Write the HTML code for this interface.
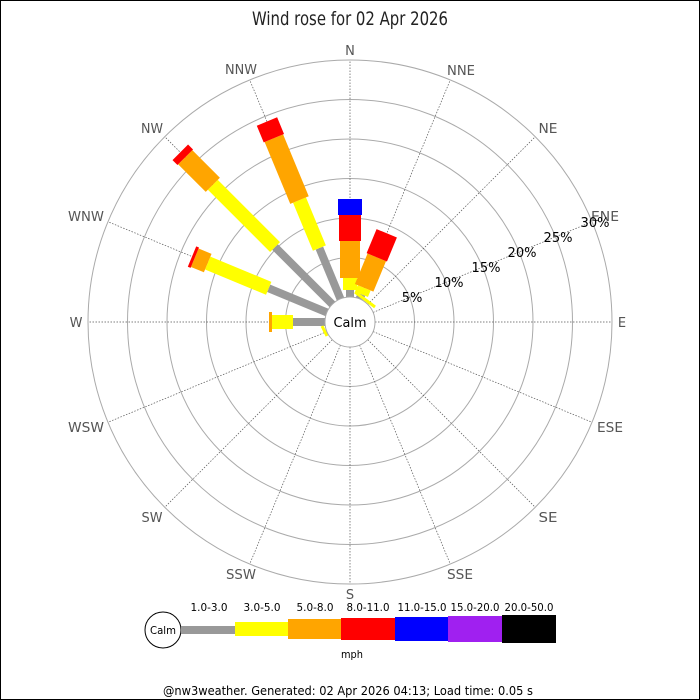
<!DOCTYPE html>
<html><head><meta charset="utf-8"><style>
html,body{margin:0;padding:0;background:#fff}
svg{display:block;font-family:"DejaVu Sans","Liberation Sans",sans-serif}
</style></head><body>
<svg width="700" height="700" viewBox="0 0 700 700" xmlns="http://www.w3.org/2000/svg">
<rect x="0.5" y="0.5" width="699" height="699" fill="#fff" stroke="#000"/>
<text x="350" y="25" font-size="19" text-anchor="middle" fill="#222" textLength="196" lengthAdjust="spacingAndGlyphs">Wind rose for 02 Apr 2026</text>
<g fill="none" stroke="#aaa" stroke-width="1">
<circle cx="350" cy="322" r="64.5"/><circle cx="350" cy="322" r="104"/><circle cx="350" cy="322" r="143.5"/>
<circle cx="350" cy="322" r="183"/><circle cx="350" cy="322" r="222.5"/><circle cx="350" cy="322" r="262"/>
</g>
<g stroke="#555" stroke-width="0.7" stroke-dasharray="1.5,1.5">
<line x1="0" y1="-25" x2="0" y2="-262" transform="translate(350,322) rotate(0)"/>
<line x1="0" y1="-25" x2="0" y2="-262" transform="translate(350,322) rotate(22.5)"/>
<line x1="0" y1="-25" x2="0" y2="-262" transform="translate(350,322) rotate(45)"/>
<line x1="0" y1="-25" x2="0" y2="-262" transform="translate(350,322) rotate(67.5)"/>
<line x1="0" y1="-25" x2="0" y2="-262" transform="translate(350,322) rotate(90)"/>
<line x1="0" y1="-25" x2="0" y2="-262" transform="translate(350,322) rotate(112.5)"/>
<line x1="0" y1="-25" x2="0" y2="-262" transform="translate(350,322) rotate(135)"/>
<line x1="0" y1="-25" x2="0" y2="-262" transform="translate(350,322) rotate(157.5)"/>
<line x1="0" y1="-25" x2="0" y2="-262" transform="translate(350,322) rotate(180)"/>
<line x1="0" y1="-25" x2="0" y2="-262" transform="translate(350,322) rotate(202.5)"/>
<line x1="0" y1="-25" x2="0" y2="-262" transform="translate(350,322) rotate(225)"/>
<line x1="0" y1="-25" x2="0" y2="-262" transform="translate(350,322) rotate(247.5)"/>
<line x1="0" y1="-25" x2="0" y2="-262" transform="translate(350,322) rotate(270)"/>
<line x1="0" y1="-25" x2="0" y2="-262" transform="translate(350,322) rotate(292.5)"/>
<line x1="0" y1="-25" x2="0" y2="-262" transform="translate(350,322) rotate(315)"/>
<line x1="0" y1="-25" x2="0" y2="-262" transform="translate(350,322) rotate(337.5)"/>
</g>
<g transform="translate(350,322) rotate(0)">
<rect x="-4" y="-32" width="8" height="7" fill="#999"/>
<rect x="-7" y="-44" width="14" height="12" fill="#ff0"/>
<rect x="-10" y="-81" width="20" height="37" fill="#ffa500"/>
<rect x="-11" y="-107" width="22" height="26" fill="#f00"/>
<rect x="-12" y="-123" width="24" height="16" fill="#00f"/>
</g>
<g transform="translate(350,322) rotate(22.5)">
<rect x="-4" y="-30" width="8" height="5" fill="#999"/>
<rect x="-7" y="-37" width="14" height="7" fill="#ff0"/>
<rect x="-10" y="-70" width="20" height="33" fill="#ffa500"/>
<rect x="-11" y="-96" width="22" height="26" fill="#f00"/>
</g>
<g transform="translate(350,322) rotate(337.5)">
<rect x="-4" y="-80" width="8" height="55" fill="#999"/>
<rect x="-7" y="-132" width="14" height="52" fill="#ff0"/>
<rect x="-10" y="-199" width="20" height="67" fill="#ffa500"/>
<rect x="-11" y="-217" width="22" height="18" fill="#f00"/>
</g>
<g transform="translate(350,322) rotate(315)">
<rect x="-4" y="-106" width="8" height="81" fill="#999"/>
<rect x="-7" y="-194" width="14" height="88" fill="#ff0"/>
<rect x="-10" y="-233" width="20" height="39" fill="#ffa500"/>
<rect x="-11" y="-240" width="22" height="7" fill="#f00"/>
</g>
<g transform="translate(350,322) rotate(292.5)">
<rect x="-4" y="-88" width="8" height="63" fill="#999"/>
<rect x="-7" y="-154" width="14" height="66" fill="#ff0"/>
<rect x="-10" y="-168" width="20" height="14" fill="#ffa500"/>
<rect x="-11" y="-171" width="22" height="3" fill="#f00"/>
</g>
<g transform="translate(350,322) rotate(270)">
<rect x="-4" y="-57" width="8" height="32" fill="#999"/>
<rect x="-7" y="-78" width="14" height="21" fill="#ff0"/>
<rect x="-10" y="-81" width="20" height="3" fill="#ffa500"/>
</g>
<line x1="355" y1="292" x2="375" y2="307" stroke="#ff0" stroke-width="3"/>
<line x1="322" y1="326" x2="327" y2="336" stroke="#ff0" stroke-width="3"/>
<circle cx="350" cy="322" r="25" fill="#fff" stroke="#aaa"/>
<text x="350" y="327" font-size="13" text-anchor="middle" fill="#000" textLength="33" lengthAdjust="spacingAndGlyphs">Calm</text>
<g font-size="13" fill="#555" text-anchor="middle">
<text x="350" y="55">N</text>
<text x="461" y="75" textLength="28" lengthAdjust="spacingAndGlyphs">NNE</text>
<text x="548" y="133" textLength="19" lengthAdjust="spacingAndGlyphs">NE</text>
<text x="605" y="221" textLength="28" lengthAdjust="spacingAndGlyphs">ENE</text>
<text x="622" y="327">E</text>
<text x="610" y="432" textLength="26" lengthAdjust="spacingAndGlyphs">ESE</text>
<text x="548" y="522" textLength="19" lengthAdjust="spacingAndGlyphs">SE</text>
<text x="460" y="579" textLength="26" lengthAdjust="spacingAndGlyphs">SSE</text>
<text x="350" y="599">S</text>
<text x="241" y="579" textLength="30" lengthAdjust="spacingAndGlyphs">SSW</text>
<text x="152" y="522" textLength="21" lengthAdjust="spacingAndGlyphs">SW</text>
<text x="86" y="432" textLength="36" lengthAdjust="spacingAndGlyphs">WSW</text>
<text x="76" y="327">W</text>
<text x="86" y="221" textLength="36" lengthAdjust="spacingAndGlyphs">WNW</text>
<text x="152" y="133" textLength="22" lengthAdjust="spacingAndGlyphs">NW</text>
<text x="241" y="74" textLength="32" lengthAdjust="spacingAndGlyphs">NNW</text>
</g>
<g font-size="13" fill="#000" text-anchor="middle">
<text x="412" y="302">5%</text>
<text x="449" y="287">10%</text>
<text x="486" y="272">15%</text>
<text x="522" y="257">20%</text>
<text x="558" y="242">25%</text>
<text x="595" y="227">30%</text>
</g>
<circle cx="163" cy="630" r="18" fill="#fff" stroke="#000"/>
<text x="163" y="634" font-size="11" text-anchor="middle" textLength="26" lengthAdjust="spacingAndGlyphs">Calm</text>
<rect x="181" y="626" width="54" height="8" fill="#999"/>
<rect x="235" y="622" width="53" height="14" fill="#ff0"/>
<rect x="288" y="619" width="53" height="20" fill="#ffa500"/>
<rect x="341" y="618" width="54" height="22" fill="#f00"/>
<rect x="395" y="617" width="53" height="24" fill="#00f"/>
<rect x="448" y="616" width="54" height="26" fill="#a020f0"/>
<rect x="502" y="615" width="54" height="28" fill="#000"/>
<g font-size="11" text-anchor="middle" fill="#000" lengthAdjust="spacingAndGlyphs">
<text x="209" y="611" textLength="37" lengthAdjust="spacingAndGlyphs">1.0-3.0</text>
<text x="262" y="611" textLength="37" lengthAdjust="spacingAndGlyphs">3.0-5.0</text>
<text x="315" y="611" textLength="37" lengthAdjust="spacingAndGlyphs">5.0-8.0</text>
<text x="368" y="611" textLength="43" lengthAdjust="spacingAndGlyphs">8.0-11.0</text>
<text x="422" y="611" textLength="49" lengthAdjust="spacingAndGlyphs">11.0-15.0</text>
<text x="475" y="611" textLength="49" lengthAdjust="spacingAndGlyphs">15.0-20.0</text>
<text x="529" y="611" textLength="49" lengthAdjust="spacingAndGlyphs">20.0-50.0</text>
<text x="352" y="658" textLength="22" lengthAdjust="spacingAndGlyphs">mph</text>
<text x="348" y="695" font-size="12" textLength="370" lengthAdjust="spacingAndGlyphs">@nw3weather. Generated: 02 Apr 2026 04:13; Load time: 0.05 s</text>
</g>
</svg>
</body></html>
